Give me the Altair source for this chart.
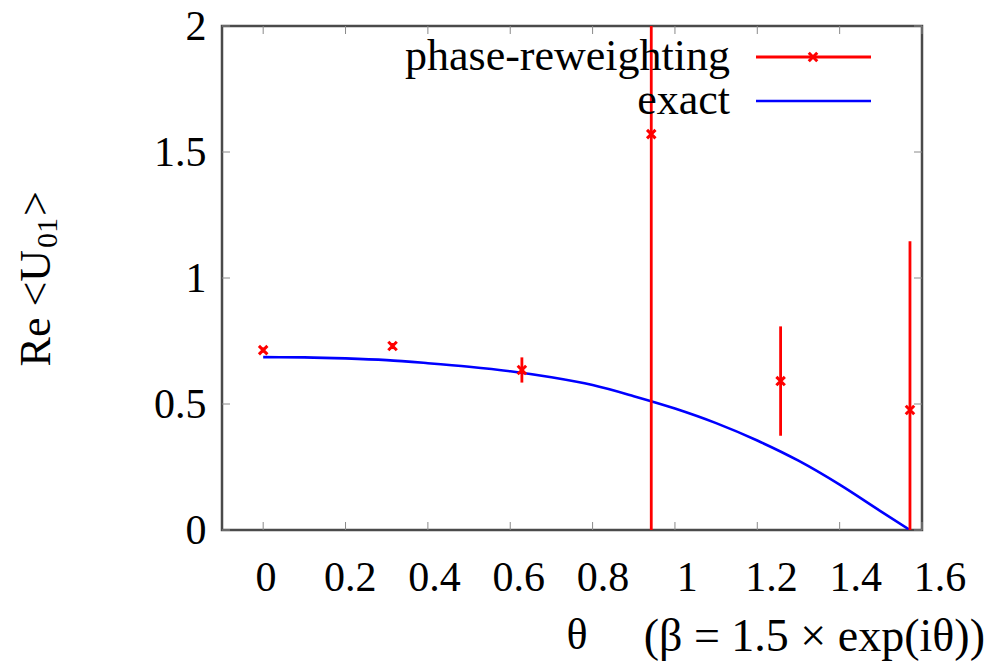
import altair as alt
import pandas as pd

# ---- data ----
theta_pts = [0.0, 0.3142, 0.6283, 0.9425, 1.2566, 1.5708]
re_vals = [0.714, 0.730, 0.635, 1.571, 0.591, 0.476]
re_err = [0.010, 0.012, 0.050, 2.60, 0.217, 0.670]

curve_theta = [0.0, 0.1, 0.2, 0.3, 0.4, 0.5, 0.6, 0.7, 0.8, 0.9, 1.0, 1.1, 1.2, 1.3, 1.4, 1.5, 1.5708]
curve_vals = [0.686, 0.685, 0.681, 0.674, 0.662, 0.648, 0.630, 0.606, 0.575, 0.531, 0.482, 0.424, 0.355, 0.275, 0.180, 0.074, 0.0]

x_ticks = [0.0, 0.2, 0.4, 0.6, 0.8, 1.0, 1.2, 1.4, 1.6]
x_tick_labels = ["0", "0.2", "0.4", "0.6", "0.8", "1", "1.2", "1.4", "1.6"]
y_ticks = [0.0, 0.5, 1.0, 1.5, 2.0]

FONT = "Liberation Serif"
W, H = 700, 504

pts = pd.DataFrame({
    "theta": theta_pts,
    "re": re_vals,
    "lo": [v - e for v, e in zip(re_vals, re_err)],
    "hi": [v + e for v, e in zip(re_vals, re_err)],
})
curve = pd.DataFrame({"theta": curve_theta, "re": curve_vals})
xt = pd.DataFrame({"t": x_ticks, "lab": x_tick_labels})
yt = pd.DataFrame({"t": y_ticks})
one = pd.DataFrame({"a": [0]})

xs = alt.Scale(domain=[-0.1, 1.6], nice=False, zero=False)
ys = alt.Scale(domain=[0, 2], nice=False, zero=False)
yaxis = alt.Axis(values=y_ticks, format="~g", ticks=False, domain=False, grid=False,
                 title=None, labelFont=FONT, labelFontSize=42, labelColor="black",
                 labelPadding=16)

X = alt.X("theta:Q", scale=xs, axis=None)
Y = alt.Y("re:Q", scale=ys, axis=yaxis)

exact = alt.Chart(curve).mark_line(color="#0000ff", strokeWidth=2.6, interpolate="monotone", clip=True).encode(x=X, y=Y)

errbars = alt.Chart(pts).mark_rule(color="#ff0000", strokeWidth=2.8, clip=True).encode(
    x=X, y=alt.Y("lo:Q", scale=ys, axis=yaxis), y2="hi:Q")

marker_path = "M-1,-1L1,1M-1,1L1,-1"
points = alt.Chart(pts).mark_point(shape=marker_path, filled=False, color="#ff0000",
                                   strokeWidth=3, size=72, opacity=1, clip=True).encode(x=X, y=Y)

# inward ticks (gnuplot style)
tick_style = dict(color="#8a8a8a", strokeWidth=1)
xtb = alt.Chart(xt).mark_rule(**tick_style).encode(
    x=alt.X("t:Q", scale=xs, axis=None), y=alt.value(H), y2=alt.value(H - 8))
xtt = alt.Chart(xt).mark_rule(**tick_style).encode(
    x=alt.X("t:Q", scale=xs, axis=None), y=alt.value(0), y2=alt.value(8))
ytl = alt.Chart(yt).mark_rule(**tick_style).encode(
    y=alt.Y("t:Q", scale=ys, axis=yaxis), x=alt.value(0), x2=alt.value(8))
ytr = alt.Chart(yt).mark_rule(**tick_style).encode(
    y=alt.Y("t:Q", scale=ys, axis=yaxis), x=alt.value(W), x2=alt.value(W - 8))

# x tick labels (slightly spread, as in the reference)
xlabels = alt.Chart(xt).mark_text(font=FONT, fontSize=42, color="black",
                                  align="center", baseline="middle").encode(
    x=alt.X("t:Q", scale=alt.Scale(domain=[-0.1, 1.6], range=[2, 718], nice=False, zero=False), axis=None),
    y=alt.value(552), text="lab:N")

# x title
xt1 = alt.Chart(one).mark_text(text="θ", font=FONT, fontSize=44, color="black",
                               align="center", baseline="middle").encode(
    x=alt.value(355), y=alt.value(610))
xt2 = alt.Chart(one).mark_text(text="(β = 1.5 × exp(iθ))", font=FONT, fontSize=46, color="black",
                               align="right", baseline="middle").encode(
    x=alt.value(763), y=alt.value(611))

# y title: Re <U_01>
yt1 = alt.Chart(one).mark_text(text="Re <U", font=FONT, fontSize=44, color="black",
                               angle=270, align="right", baseline="alphabetic").encode(
    x=alt.value(-172), y=alt.value(224))
yt2 = alt.Chart(one).mark_text(text="01", font=FONT, fontSize=30, color="black",
                               angle=270, align="left", baseline="alphabetic").encode(
    x=alt.value(-165), y=alt.value(222))
yt3 = alt.Chart(one).mark_text(text=">", font=FONT, fontSize=44, color="black",
                               angle=270, align="left", baseline="alphabetic").encode(
    x=alt.value(-172), y=alt.value(190))

# legend
lg_t1 = alt.Chart(one).mark_text(text="phase-reweighting", font=FONT, fontSize=44, color="black",
                                 align="right", baseline="middle").encode(
    x=alt.value(508), y=alt.value(31))
lg_t2 = alt.Chart(one).mark_text(text="exact", font=FONT, fontSize=44, color="black",
                                 align="right", baseline="middle").encode(
    x=alt.value(508), y=alt.value(75))
lg_l1 = alt.Chart(one).mark_rule(color="#ff0000", strokeWidth=2.8).encode(
    x=alt.value(534), x2=alt.value(649), y=alt.value(31))
lg_m1 = alt.Chart(one).mark_point(shape=marker_path, filled=False, color="#ff0000",
                                  strokeWidth=3, size=72, opacity=1).encode(
    x=alt.value(591), y=alt.value(31))
lg_l2 = alt.Chart(one).mark_rule(color="#0000ff", strokeWidth=2.6).encode(
    x=alt.value(534), x2=alt.value(649), y=alt.value(75))

chart = alt.layer(
    xtb, xtt, ytl, ytr, exact, errbars, points, xlabels,
    xt1, xt2, yt1, yt2, yt3, lg_t1, lg_t2, lg_l1, lg_m1, lg_l2
).resolve_scale(x="independent").properties(
    width=W, height=H, autosize="none",
    padding={"left": 222, "top": 26, "right": 69, "bottom": 135},
    background="white",
).configure_view(stroke="#4a4a4a", strokeWidth=2.5)

chart.save("out.html", embed_options={"renderer": "svg", "actions": False})
